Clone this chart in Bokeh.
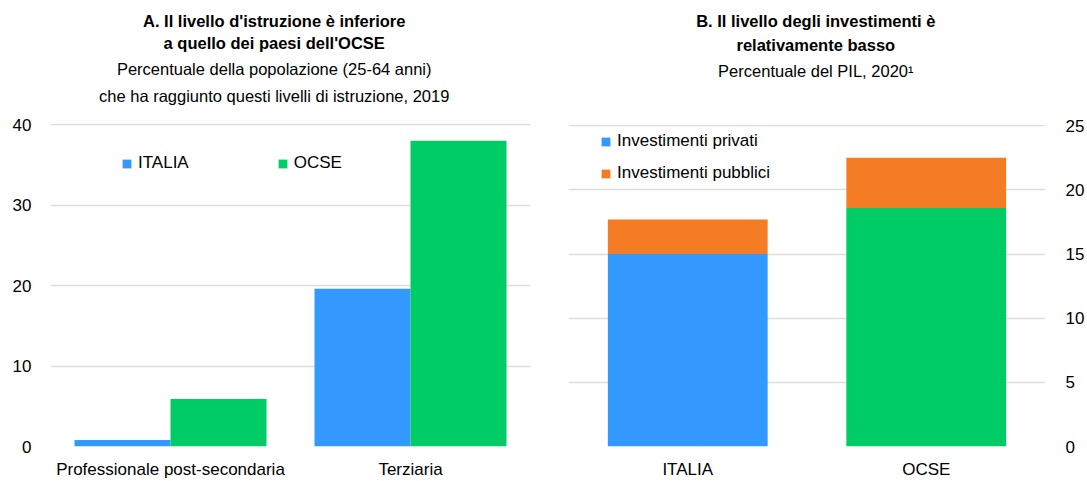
from bokeh.plotting import figure
from bokeh.models import (ColumnDataSource, Range1d, FixedTicker, Legend, LegendItem)
from bokeh.core.properties import value
from bokeh.transform import dodge, factor_cmap
from bokeh.layouts import row, column
from bokeh.embed import file_html
from bokeh.resources import INLINE

# ---------------- data ----------------
edu_categories = ["Professionale post-secondaria", "Terziaria"]
edu_italia = [0.8, 19.6]
edu_ocse = [5.9, 38.0]

inv_countries = ["ITALIA", "OCSE"]
inv_private = [15.0, 18.6]
inv_public = [2.7, 3.9]

titles_A = ["A. Il livello d'istruzione è inferiore", "a quello dei paesi dell'OCSE"]
subtitles_A = ["Percentuale della popolazione (25-64 anni)",
               "che ha raggiunto questi livelli di istruzione, 2019"]
titles_B = ["B. Il livello degli investimenti è", "relativamente basso"]
subtitles_B = ["Percentuale del PIL, 2020¹"]

# ---------------- style ----------------
FONT = "Liberation Sans"
BLUE = "#3399ff"
GREEN = "#00cc66"
ORANGE = "#f47c24"
GRID = "#dddddd"
TXT = "#000000"
TITLE_H = 105
TOTAL_H = 481


def style_axes(p):
    for ax in p.xaxis + p.yaxis:
        ax.axis_line_color = None
        ax.major_tick_line_color = None
        ax.minor_tick_line_color = None
        ax.major_tick_out = 0
        ax.major_tick_in = 0
        ax.major_label_text_font = FONT
        ax.major_label_text_font_size = "17px"
        ax.major_label_text_color = TXT
    p.xgrid.grid_line_color = None
    p.ygrid.grid_line_color = GRID
    p.ygrid.grid_line_width = 1.5
    p.outline_line_color = None


def title_block(width, cx, bold_lines, bold_ys, norm_lines, norm_ys):
    t = figure(width=width, height=TITLE_H, x_range=Range1d(0, width),
               y_range=Range1d(TITLE_H, 0), output_backend="svg",
               toolbar_location=None, min_border=0)
    t.axis.visible = False
    t.grid.visible = False
    t.outline_line_color = None
    t.text(x=[cx] * len(bold_lines), y=bold_ys, text=bold_lines,
           text_font=value(FONT), text_font_size="16.5px", text_font_style="bold",
           text_align="center", text_baseline="middle", text_color=TXT)
    t.text(x=[cx] * len(norm_lines), y=norm_ys, text=norm_lines,
           text_font=value(FONT), text_font_size="16.5px",
           text_align="center", text_baseline="middle", text_color=TXT)
    return t


# ---------------- panel A ----------------
srcA = ColumnDataSource(dict(cat=edu_categories, italia=edu_italia, ocse=edu_ocse))
pA = figure(width=545, height=TOTAL_H - TITLE_H, x_range=edu_categories,
            y_range=Range1d(0, 40.15), output_backend="svg", toolbar_location=None,
            min_border_left=50, min_border_right=15, min_border_bottom=33,
            min_border_top=18)
rA1 = pA.vbar(x=dodge("cat", -0.2, range=pA.x_range), top="italia", width=0.4,
              source=srcA, fill_color=BLUE, line_color=None)
rA2 = pA.vbar(x=dodge("cat", 0.2, range=pA.x_range), top="ocse", width=0.4,
              source=srcA, fill_color=GREEN, line_color=None)
pA.yaxis.ticker = FixedTicker(ticks=[0, 10, 20, 30, 40])
style_axes(pA)
pA.yaxis.major_label_standoff = 19
pA.xaxis.major_label_standoff = 13
legA = Legend(items=[LegendItem(label="ITALIA", renderers=[rA1]),
                     LegendItem(label="OCSE", renderers=[rA2])],
              orientation="horizontal", location=(71, 273), padding=0, margin=0,
              spacing=88, border_line_color=None, background_fill_alpha=0,
              glyph_width=11, glyph_height=11, label_standoff=6, label_height=20,
              label_text_font=FONT, label_text_font_size="17px",
              label_text_color=TXT)
pA.add_layout(legA)
tA = title_block(545, 254, titles_A, [20, 42], subtitles_A, [68, 95])

# ---------------- panel B ----------------
inv_total = [a + b for a, b in zip(inv_private, inv_public)]
srcB = ColumnDataSource(dict(country=inv_countries, private=inv_private,
                             total=inv_total))
pB = figure(width=542, height=TOTAL_H - TITLE_H, x_range=inv_countries,
            y_range=Range1d(0, 25.1), y_axis_location="right", output_backend="svg",
            toolbar_location=None, min_border_left=23, min_border_right=42,
            min_border_bottom=33, min_border_top=19)
rB1 = pB.vbar(x="country", bottom=0, top="private", width=0.67, source=srcB,
              fill_color=factor_cmap("country", [BLUE, GREEN], inv_countries),
              line_color=None)
rB2 = pB.vbar(x="country", bottom="private", top="total", width=0.67, source=srcB,
              fill_color=ORANGE, line_color=None)
pB.yaxis.ticker = FixedTicker(ticks=[0, 5, 10, 15, 20, 25])
style_axes(pB)
pB.yaxis.major_label_standoff = 20
pB.xaxis.major_label_standoff = 13
legB = Legend(items=[LegendItem(label="Investimenti privati", renderers=[rB1], index=0),
                     LegendItem(label="Investimenti pubblici", renderers=[rB2])],
              orientation="vertical", location=(32, 263), padding=0, margin=0,
              spacing=12, border_line_color=None, background_fill_alpha=0,
              glyph_width=11, glyph_height=11, label_standoff=6, label_height=20,
              label_text_font=FONT, label_text_font_size="17px",
              label_text_color=TXT)
pB.add_layout(legB)
tB = title_block(542, 281, titles_B, [20, 44], subtitles_B, [70])

layout = row(column(tA, pA), column(tB, pB))
open("out.html", "w").write(file_html(layout, INLINE))
